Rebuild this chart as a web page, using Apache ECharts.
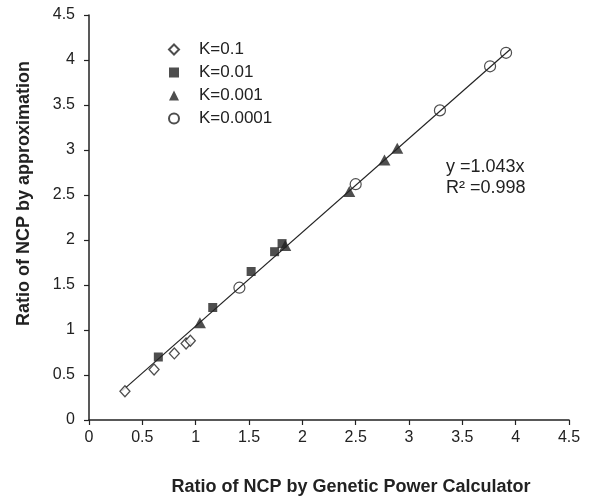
<!DOCTYPE html>
<html>
<head>
<meta charset="utf-8">
<script src="https://cdn.jsdelivr.net/npm/echarts@6/dist/echarts.min.js"></script>
<style>
  html, body { margin: 0; padding: 0; background: #fff; }
  #main { width: 593px; height: 501px; }
</style>
</head>
<body>
<div id="main"></div>
<script>
// values: [GPC ratio, approximation ratio]
var k01 = [[0.337, 0.32], [0.61, 0.56], [0.80, 0.74], [0.91, 0.85], [0.95, 0.88]];
var k001 = [[0.65, 0.70], [1.16, 1.25], [1.52, 1.65], [1.74, 1.87], [1.81, 1.96]];
var k0001 = [[1.04, 1.08], [1.84, 1.94], [2.44, 2.54], [2.77, 2.89], [2.89, 3.02]];
var k00001 = [[1.41, 1.47], [2.50, 2.62], [3.29, 3.44], [3.76, 3.93], [3.91, 4.08]];
var slope = 1.043;
var fitRange = [0.31, 3.95];
var fitLine = fitRange.map(function (x) { return [x, slope * x]; });
var fitText = ['y =1.043x', 'R² =0.998'];

var font = 'Liberation Sans, Arial, sans-serif';
var ink = '#222';

function axis(name, gap) {
  return {
    type: 'value',
    min: 0,
    max: 4.5,
    interval: 0.5,
    name: name,
    nameLocation: 'middle',
    nameGap: gap,
    nameTextStyle: { fontFamily: font, fontWeight: 'bold', fontSize: 18, color: ink },
    axisLine: { show: true, lineStyle: { color: ink, width: 1.5 } },
    axisTick: { show: true, inside: false, length: 5, lineStyle: { color: ink, width: 1.2 } },
    axisLabel: { fontFamily: font, fontSize: 16, color: ink, margin: 10 },
    splitLine: { show: false }
  };
}

var xAxis = axis('Ratio of NCP by Genetic Power Calculator', 58);
xAxis.nameTextStyle.padding = [0, 0, 0, 44];   // title sits right of axis centre
var yAxis = axis('Ratio of NCP by approximation', 56);
yAxis.nameTextStyle.padding = [0, 0, 0, 48];   // title sits above axis centre
yAxis.axisLabel.margin = 14;

var chart = echarts.init(document.getElementById('main'));
chart.setOption({
  animation: false,
  backgroundColor: '#fff',
  grid: { left: 89, right: 24, top: 15, bottom: 80 },
  xAxis: xAxis,
  yAxis: yAxis,
  legend: {
    orient: 'vertical',
    left: 163,
    top: 36,
    itemGap: 6,
    itemWidth: 10,
    itemHeight: 10,
    textStyle: { fontFamily: font, fontSize: 17, color: ink, padding: [0, 0, 0, 15] },
    data: ['K=0.1', 'K=0.01', 'K=0.001', 'K=0.0001']
  },
  graphic: [{
    type: 'text',
    left: 446,
    top: 157,
    style: {
      text: fitText.join('\n'),
      font: '18px ' + font,
      fill: ink,
      lineHeight: 21
    }
  }],
  series: [
    {
      name: 'fit', type: 'line', data: fitLine, symbol: 'none',
      lineStyle: { color: ink, width: 1.2 }, z: 1, silent: true
    },
    {
      name: 'K=0.1', type: 'scatter', data: k01, symbol: 'diamond', symbolSize: [10, 11],
      itemStyle: { color: '#fff', borderColor: ink, borderWidth: 1.3 }, z: 3
    },
    {
      name: 'K=0.01', type: 'scatter', data: k001, symbol: 'rect', symbolSize: 9,
      itemStyle: { color: ink }, z: 3
    },
    {
      name: 'K=0.001', type: 'scatter', data: k0001, symbol: 'triangle', symbolSize: [12, 11],
      itemStyle: { color: ink }, z: 3
    },
    {
      name: 'K=0.0001', type: 'scatter', data: k00001, symbol: 'circle', symbolSize: 11,
      itemStyle: { color: 'rgba(255,255,255,0)', borderColor: ink, borderWidth: 1.2 }, z: 3
    }
  ]
});
</script>
</body>
</html>
